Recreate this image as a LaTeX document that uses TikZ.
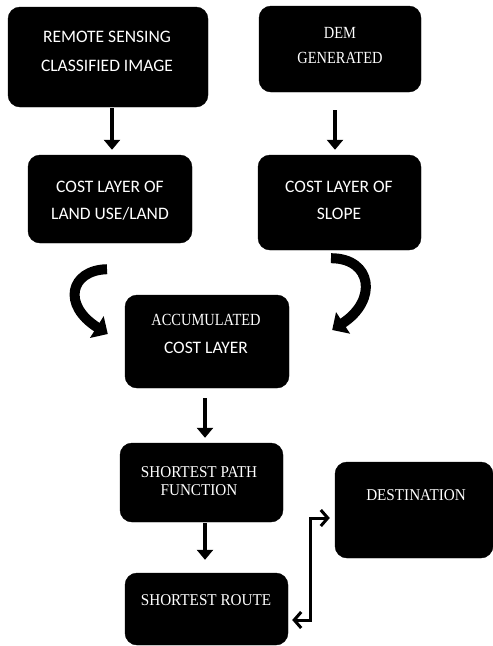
\documentclass[tikz,border=0pt]{standalone}
\usepackage{fontspec}
\setmainfont{Liberation Serif}
\newfontfamily\calib{Carlito}
\newfontfamily\condserif[FakeStretch=0.85]{Liberation Serif}
\newfontfamily\timesc[FakeStretch=0.92]{Liberation Serif}
\usetikzlibrary{arrows.meta}
\begin{document}
\begin{tikzpicture}[x=1pt,y=1pt,
  box/.style={fill=black, draw=black, rounded corners=12pt, inner sep=0pt},
  txt/.style={text=white, align=center, inner sep=0pt},
  arr/.style={line width=4.5pt, -{Triangle[length=10pt,width=16pt]}},
  curv/.style={line width=10pt, -{Triangle[length=13pt,width=25pt]}},
  barb/.style={line width=3pt, {Straight Barb[length=7pt,width=16pt]}-{Straight Barb[length=7pt,width=16pt]}}
]
\useasboundingbox (0,0) rectangle (493,-646);
% boxes
\node[box, minimum width=200pt, minimum height=100pt] (b1) at (108,-57) {};
\node[box, minimum width=162pt, minimum height=86pt] (b2) at (340,-49) {};
\node[box, minimum width=164pt, minimum height=88pt] (b3) at (110,-199) {};
\node[box, minimum width=163pt, minimum height=95pt] (b4) at (339.5,-202.5) {};
\node[box, minimum width=164pt, minimum height=93pt] (b5) at (207,-341.5) {};
\node[box, minimum width=163pt, minimum height=79pt] (b6) at (201.5,-482.5) {};
\node[box, minimum width=163pt, minimum height=72pt] (b7) at (206.5,-609) {};
\node[box, minimum width=158pt, minimum height=96pt] (b8) at (414,-510) {};
% texts
\node[txt, font=\calib\fontsize{17.5}{29}\selectfont] (t1) at (107,-51) {REMOTE SENSING\\CLASSIFIED IMAGE};
\node[txt, font=\condserif\fontsize{17}{25}\selectfont] (t2) at (340,-45.5) {DEM\\GENERATED};
\node[txt, font=\calib\fontsize{17.5}{27}\selectfont] (t3) at (110,-200.5) {COST LAYER OF\\LAND USE/LAND};
\node[txt, font=\calib\fontsize{17.5}{27}\selectfont] (t4) at (339,-200.5) {COST LAYER OF\\SLOPE};
\node[txt, font=\condserif\fontsize{17}{28}\selectfont] (t5) at (206,-334) {ACCUMULATED\\{\calib\fontsize{17.5}{28}\selectfont COST LAYER}};
\node[txt, font=\timesc\fontsize{16.5}{18}\selectfont] (t6) at (199,-481.5) {SHORTEST PATH\\FUNCTION};
\node[txt, font=\timesc\fontsize{16.5}{18}\selectfont] (t7) at (206,-600) {SHORTEST ROUTE};
\node[txt, font=\timesc\fontsize{16.5}{18}\selectfont] (t8) at (416,-495) {DESTINATION};
% straight arrows
\draw[arr] ([shift={(4,-1)}]b1.south) -- ([shift={(2,5)}]b3.north);
\draw[arr] ([shift={(-5,-18)}]b2.south) -- ([shift={(-4.5,5)}]b4.north);
\draw[arr] ([shift={(-2,-10)}]b5.south) -- ([shift={(3.5,5)}]b6.north);
\draw[arr] ([shift={(3.5,-1)}]b6.south) -- ([shift={(-1.5,13)}]b7.north);
% curved arrows
\draw[curv] ([shift={(-3,-26)}]b3.south) .. controls +(-37,-1) and +(-46,29) .. ([shift={(-17,7.5)}]b5.west);
\draw[curv] ([shift={(-8.5,-8)}]b4.south) .. controls +(41,0) and +(46,30) .. ([shift={(43,11.5)}]b5.east);
% bracket connector
\draw[barb] ([shift={(4,-11)}]b7.east) -- ++(18,0) |- ([shift={(-5,-8)}]b8.west);
\end{tikzpicture}
\end{document}
